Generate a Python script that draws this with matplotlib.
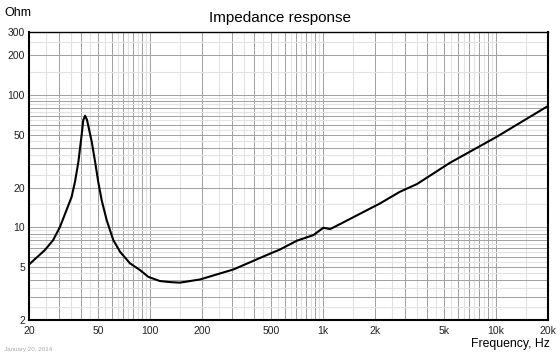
import numpy as np
import matplotlib
matplotlib.use('Agg')
import matplotlib.pyplot as plt
from matplotlib.ticker import FixedLocator

plt.rcParams['font.family'] = ['Liberation Sans', 'DejaVu Sans']

# impedance curve
freq = [20, 24.7, 27.6, 30.2, 33.0, 35.3, 36.9, 38.6, 40.3, 41.2, 42.2, 43.3,
        46.1, 48.2, 50.3, 52.6, 56.2, 61.4, 67.2, 76.7, 87.6, 97.8, 114, 130,
        149, 195, 304, 472, 566, 706, 882, 1006, 1100, 1150, 2138, 2783, 3498,
        5420, 10120, 20000]
ohm = [5.25, 6.75, 8.04, 10.1, 13.6, 17.1, 22.2, 31.4, 50, 64.9, 69.9, 64.9,
       44.4, 31.4, 22, 16.1, 11.4, 8.04, 6.55, 5.36, 4.77, 4.24, 3.94, 3.87,
       3.83, 4.05, 4.82, 6.18, 6.83, 7.94, 8.77, 9.96, 9.73, 10.0, 15.2, 18.6,
       21.3, 30.8, 48.5, 82.8]

xticks = [20, 50, 100, 200, 500, 1000, 2000, 5000, 10000, 20000]
xlabels = ['20', '50', '100', '200', '500', '1k', '2k', '5k', '10k', '20k']
yticks = [2, 5, 10, 20, 50, 100, 200, 300]
ylabels = ['2', '5', '10', '20', '50', '100', '200', '300']

fig = plt.figure(figsize=(5.6, 3.54), dpi=100)
ax = fig.add_axes([29/560, 1-320/354, (548-29)/560, (320-32)/354])
ax.set_xscale('log')
ax.set_yscale('log')
ax.set_xlim(20, 20000)
ax.set_ylim(2, 300)

# grid: integer multiples darker, half steps lighter
major_x = [m * 10**k for k in range(1, 5) for m in range(1, 10)]
minor_x = [(m + 0.5) * 10**k for k in range(1, 5) for m in range(1, 10)]
major_y = [m * 10**k for k in range(0, 3) for m in range(1, 10)]
minor_y = [(m + 0.5) * 10**k for k in range(0, 3) for m in range(1, 10)]
for v in minor_x:
    ax.axvline(v, color='#e2e2e2', lw=0.8, zorder=1)
for v in major_x:
    ax.axvline(v, color='#a0a0a0', lw=0.7, zorder=1)
for v in minor_y:
    ax.axhline(v, color='#e2e2e2', lw=0.8, zorder=1)
for v in major_y:
    ax.axhline(v, color='#a0a0a0', lw=0.7, zorder=1)

ax.plot(freq, ohm, color='black', lw=1.5, zorder=3)

ax.xaxis.set_major_locator(FixedLocator(xticks))
ax.set_xticks([], minor=True)
ax.set_xticklabels(xlabels)
ax.yaxis.set_major_locator(FixedLocator(yticks))
ax.set_yticks([], minor=True)
ax.set_yticklabels(ylabels)
ax.tick_params(length=0, labelsize=7.5, colors='#222222', pad=4)
ax.tick_params(axis='y', pad=3)

for s in ax.spines.values():
    s.set_linewidth(1.5)
    s.set_color('black')
ax.spines['top'].set_linewidth(1.0)

fig.text(0.5, 1-18/354, 'Impedance response', ha='center', va='center', fontsize=11)
fig.text(4/560, 1-13/354, 'Ohm', ha='left', va='center', fontsize=9)
fig.text(550/560, 1-344/354, 'Frequency, Hz', ha='right', va='center', fontsize=8.8)
fig.text(4/560, 1-349/354, 'January 20, 2014', ha='left', va='center', fontsize=4.5, color='#aaaaaa')

fig.savefig('out.png', dpi=100)
